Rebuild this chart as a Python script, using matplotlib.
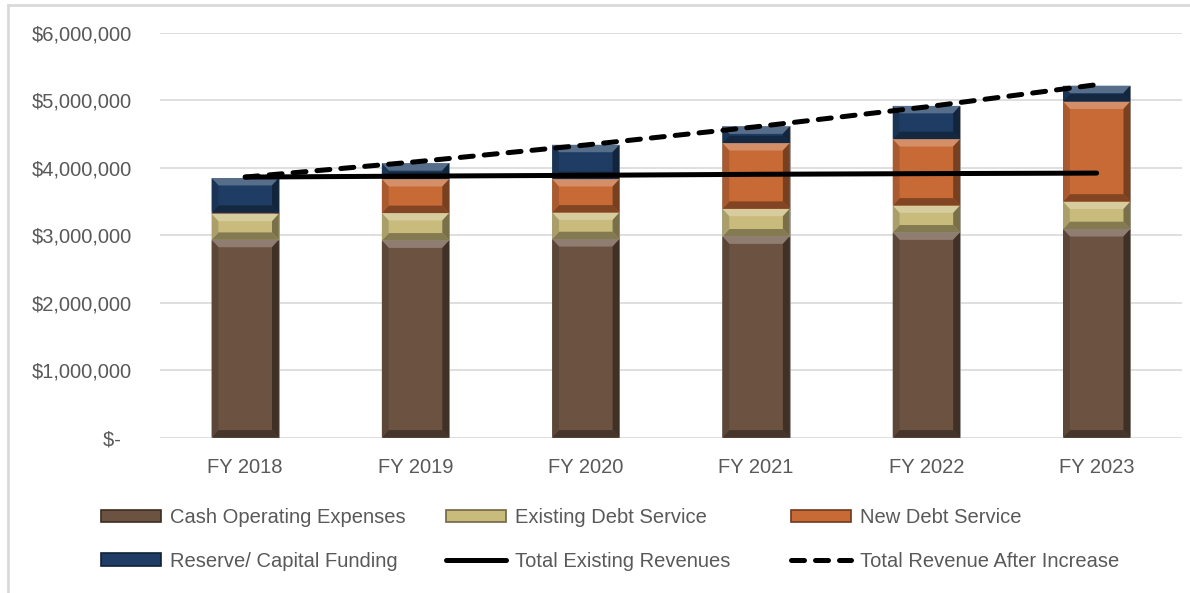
import matplotlib
matplotlib.use("Agg")
import matplotlib.pyplot as plt
import numpy as np
from matplotlib.patches import Polygon, Patch
from matplotlib.lines import Line2D
from matplotlib.ticker import FuncFormatter
from matplotlib.colors import to_rgb

# data
years = ["FY 2018", "FY 2019", "FY 2020", "FY 2021", "FY 2022", "FY 2023"]
cash_opex = [2933000, 2923000, 2943000, 2983000, 3042000, 3092000]
existing_debt = [386000, 407000, 395000, 410000, 400000, 408000]
new_debt = [15000, 504000, 496000, 975000, 985000, 1485000]
reserve = [516000, 236000, 509000, 247000, 493000, 235000]
existing_rev = [3864000, 3878000, 3890000, 3905000, 3915000, 3923000]
rev_after = [3864000, 4090000, 4340000, 4610000, 4905000, 5235000]

series = [
    ("Cash Operating Expenses", cash_opex, "#6b5241"),
    ("Existing Debt Service", existing_debt, "#c9bb7c"),
    ("New Debt Service", new_debt, "#c76a36"),
    ("Reserve/ Capital Funding", reserve, "#1f3d64"),
]

plt.rcParams['font.family'] = ['Liberation Sans', 'DejaVu Sans']
txt = "#595959"

W, H = 1190, 593
fig = plt.figure(figsize=(W / 100, H / 100), dpi=100)
ax = fig.add_axes([0.1345, 0.2622, 0.8586, 0.682])

x = np.arange(len(years))
width = 0.395


def shade(c, f):
    r, g, b = to_rgb(c)
    if f > 0:
        return (r + (1 - r) * f, g + (1 - g) * f, b + (1 - b) * f)
    return (r * (1 + f), g * (1 + f), b * (1 + f))


def bevel(bars, color):
    # fake the excel "bevel" look on each bar segment
    for p in bars:
        x0, y0 = p.get_x(), p.get_y()
        w, h = p.get_width(), p.get_height()
        bx = 0.04
        by = min(110000, h / 2)
        x1, y1 = x0 + w, y0 + h
        polys = [
            ([(x0, y1), (x1, y1), (x1 - bx, y1 - by), (x0 + bx, y1 - by)], shade(color, 0.25)),
            ([(x0, y0), (x1, y0), (x1 - bx, y0 + by), (x0 + bx, y0 + by)], shade(color, -0.35)),
            ([(x0, y0), (x0 + bx, y0 + by), (x0 + bx, y1 - by), (x0, y1)], shade(color, -0.15)),
            ([(x1, y0), (x1 - bx, y0 + by), (x1 - bx, y1 - by), (x1, y1)], shade(color, -0.4)),
        ]
        for pts, c in polys:
            ax.add_patch(Polygon(pts, closed=True, facecolor=c, edgecolor="none", zorder=2.5))


bottom = np.zeros(len(years))
handles = []
for label, vals, color in series:
    bars = ax.bar(x, vals, width, bottom=bottom, color=color, edgecolor="#9a9a9a",
                  linewidth=0.6, zorder=2)
    bevel(bars, color)
    bottom += np.array(vals)
    handles.append(Patch(facecolor=color, edgecolor=shade(color, -0.45), linewidth=1.2, label=label))

l1, = ax.plot(x, existing_rev, color="black", lw=3.6, solid_capstyle="round",
              label="Total Existing Revenues", zorder=4)
l2, = ax.plot(x, rev_after, color="black", lw=3.6, dashes=(2.6, 2.2),
              dash_capstyle="round", label="Total Revenue After Increase", zorder=4)

ax.set_xlim(-0.5, 5.5)
ax.set_ylim(0, 6000000)
ax.set_yticks(np.arange(0, 6000001, 1000000))
ax.yaxis.set_major_formatter(FuncFormatter(lambda v, p: "$-  " if v == 0 else "${:,.0f}".format(v)))
ax.set_xticks(x)
ax.set_xticklabels(years)
ax.grid(axis="y", color="#d9d9d9", lw=1.2, zorder=0)
ax.set_axisbelow(True)
for s in ax.spines.values():
    s.set_visible(False)
ax.tick_params(axis="both", length=0, labelsize=14.5, labelcolor=txt)
ax.tick_params(axis="y", pad=20)
ax.tick_params(axis="x", pad=15)

# legend: three columns of two rows, placed like the original
cols = [(handles[0], handles[3]), (handles[1], l1), (handles[2], l2)]
col_x = [101, 446, 791]
for hs, cx in zip(cols, col_x):
    fig.legend(handles=list(hs), labels=[h.get_label() for h in hs],
               loc="center left", bbox_to_anchor=(cx / W, 1 - 539.5 / H),
               frameon=False, borderpad=0, borderaxespad=0,
               fontsize=14.5, labelcolor=txt, handlelength=3.0, handleheight=0.55,
               handletextpad=0.45, labelspacing=1.2)

# light frame round the chart
fig.add_artist(Line2D([8 / W, 8 / W], [0, 1 - 5 / H], transform=fig.transFigure,
                      color="#d9d9d9", lw=2))
fig.add_artist(Line2D([8 / W, 1], [1 - 5 / H, 1 - 5 / H], transform=fig.transFigure,
                      color="#d9d9d9", lw=2))

fig.savefig("out.png", dpi=100)
